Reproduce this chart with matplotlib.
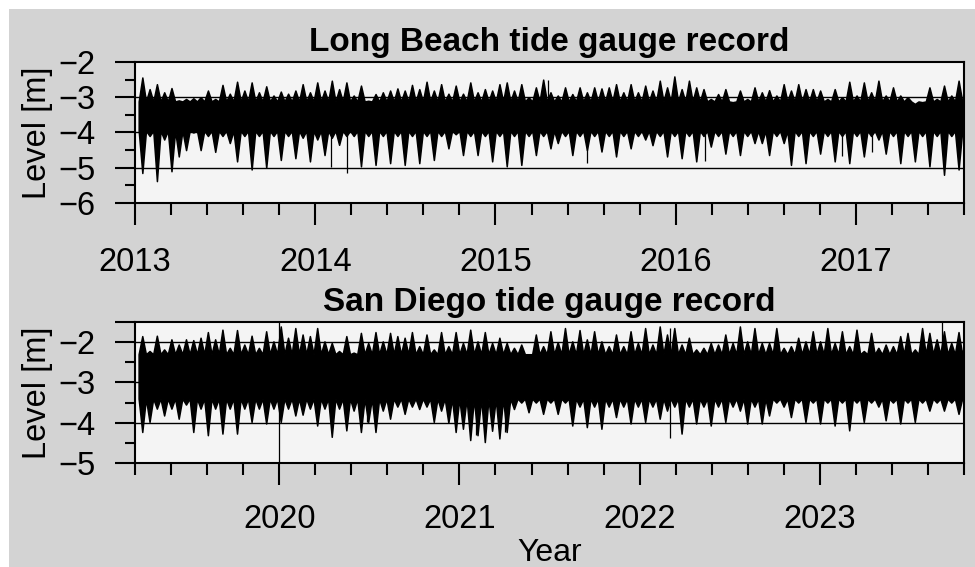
import numpy as np
import matplotlib
matplotlib.use('Agg')
import matplotlib.pyplot as plt
from matplotlib.ticker import MultipleLocator, FixedLocator
from matplotlib.patches import Rectangle

plt.rcParams['font.family'] = ['Liberation Sans', 'DejaVu Sans']

# one spring tide every 14.77 days, neap levels in between
STEP = 14.77 / 365.25

# Long Beach: spring-tide highs / lows [m]
lb_start = 2013.0405
lb_high = [-2.44, -2.77, -2.63, -2.86, -2.74, -3.09, -3.05, -3.03, -3.0, -2.81,
           -3.05, -2.65, -2.9, -2.56, -2.81, -2.58, -2.86, -2.69, -2.95, -2.84,
           -2.9, -2.81, -2.63, -2.86, -2.58, -2.81, -2.53, -2.77, -2.58,
           -2.95, -2.67, -3.1, -2.91, -2.86, -2.81, -2.75, -2.81, -2.65, -2.77,
           -2.56, -2.81, -2.63, -2.9, -2.67, -2.9, -2.58, -2.86, -2.77, -2.81,
           -2.63, -2.58, -2.81, -2.63, -3.0, -2.72, -2.5, -2.86,
           -2.95, -2.72, -2.91, -2.72, -2.86, -2.72, -2.75, -2.72, -2.63, -2.86,
           -2.63, -2.86, -2.67, -2.81, -2.53, -2.72, -2.41, -2.77, -2.53, -2.72,
           -2.77, -3.05, -2.91, -2.77, -3.14, -2.81, -3.05, -2.72, -2.86,
           -2.8, -2.95, -2.63, -2.81, -2.63, -2.77, -2.77, -2.81, -3.05, -2.77,
           -3.0, -2.56, -2.95, -2.58, -2.86, -2.53, -2.95, -2.72, -2.95, -3.0,
           -3.19, -3.14, -2.72, -3.05, -2.67, -2.95, -2.53, -2.9]
lb_low = [-5.15, -4.1, -5.38, -4.2, -5.1, -4.68, -4.5, -4.0, -4.5, -4.1,
          -4.55, -4.1, -4.3, -4.82, -4.1, -5.05, -4.1, -5.0, -4.1, -4.78,
          -4.1, -4.73, -4.15, -4.82, -4.2, -4.64, -4.15, -4.35, -4.1,
          -4.1, -4.96, -4.1, -4.92, -4.1, -4.87, -4.1, -4.92, -4.1, -4.87,
          -4.1, -4.78, -4.1, -4.45, -4.05, -4.64, -4.1, -4.64, -4.1, -4.82,
          -4.1, -4.96, -4.1, -4.92, -4.1, -4.64, -4.1, -4.45,
          -4.3, -4.1, -4.64, -4.1, -4.5, -4.1, -4.54, -4.1, -4.68, -4.1,
          -4.45, -4.1, -4.2, -4.36, -4.1, -4.68, -4.1, -4.73, -4.1, -4.82,
          -4.1, -4.4, -4.1, -4.6, -4.1, -4.64, -4.1, -4.3, -4.3,
          -4.64, -4.1, -4.3, -4.92, -4.1, -4.87, -4.1, -4.6, -4.1, -4.82,
          -4.1, -4.87, -4.1, -4.68, -4.1, -4.2, -4.6, -4.1, -4.87, -4.1,
          -4.82, -4.1, -4.96, -4.1, -5.2, -4.1, -5.05, -4.1]
lb_neap = (-3.12, -3.95)
lb_spike_t = [2014.09, 2014.174, 2015.293, 2015.509, 2016.161, 2016.92, 2017.087]
lb_spike_lo = [-4.97, -5.15, -3.5, -4.87, -4.82, -4.68, -4.55]
lb_spike_hi = [-3.5, -3.5, -2.5, -3.5, -3.5, -3.5, -3.5]

# San Diego: spring-tide highs / lows [m]
sd_start = 2019.2401
sd_high = [-1.85, -2.22, -1.84, -2.18, -1.93, -2.06, -1.93, -1.95, -1.89, -1.75,
           -1.93, -1.69, -2.14, -1.7, -2.06, -1.84, -2.14, -1.73, -1.98, -1.61,
           -1.89, -1.65, -1.81, -1.85, -1.65, -1.98, -2.02, -2.22, -1.85,
           -2.26, -1.77, -2.02, -1.75, -1.98, -1.77, -1.85, -1.89, -1.75, -2.1,
           -1.81, -2.18, -1.75, -2.1, -1.75, -2.02, -1.69, -1.98, -1.75, -2.02,
           -1.89, -2.02, -2.14, -2.06, -2.3, -1.81, -2.1, -1.73,
           -2.0, -1.65, -1.98, -1.7, -1.93, -1.73, -1.98, -2.1, -1.81, -2.1,
           -1.73, -2.02, -1.65, -2.06, -1.61, -1.81, -1.65, -2.06, -1.89, -2.18,
           -2.14, -2.02, -2.06, -1.81, -2.02, -1.61, -1.98, -1.65, -2.02,
           -2.02, -1.65, -2.14, -2.1, -1.89, -1.98, -1.73, -1.98, -1.65, -2.02,
           -1.73, -2.1, -1.69, -2.22, -1.77, -2.14, -2.06, -2.1, -1.85, -1.77,
           -2.18, -1.65, -1.77, -1.93, -1.73, -2.02, -1.75, -1.9]
sd_low = [-4.23, -3.98, -3.65, -3.82, -3.65, -3.9, -3.55, -4.23, -3.65, -4.31,
          -3.65, -4.27, -3.65, -4.27, -3.65, -3.98, -3.65, -4.02, -3.65, -3.98,
          -3.65, -3.82, -3.8, -3.65, -4.07, -3.65, -4.35, -3.65, -4.19,
          -3.7, -4.23, -3.98, -4.23, -3.7, -3.9, -3.6, -3.78, -3.6, -3.66,
          -3.6, -3.98, -3.7, -4.0, -4.23, -4.15, -4.43, -4.31, -4.48, -4.2,
          -4.39, -4.23, -3.66, -3.5, -3.74, -3.5, -3.78, -3.5,
          -3.78, -3.5, -4.07, -3.6, -4.11, -3.6, -4.15, -3.6, -3.86, -3.6,
          -4.02, -3.6, -3.98, -3.6, -3.9, -3.7, -3.6, -4.27, -3.6, -4.02,
          -3.6, -4.07, -3.6, -3.98, -3.6, -3.7, -4.02, -3.6, -4.02,
          -3.82, -3.5, -3.6, -3.86, -3.5, -3.98, -3.5, -4.02, -3.5, -4.07,
          -3.5, -4.19, -3.5, -3.98, -3.5, -3.6, -3.94, -3.5, -4.02, -3.5,
          -3.98, -3.5, -3.7, -3.5, -3.7, -3.5, -3.78, -3.5]
sd_neap = (-2.3, -3.4)
sd_spike_t = [2020.0, 2020.488, 2021.091, 2021.255, 2022.17, 2023.675]
sd_spike_lo = [-5.3, -3.98, -4.31, -4.23, -4.39, -3.2]
sd_spike_hi = [-1.3, -3.0, -3.0, -3.0, -1.65, -1.4]


def tide_band(start, highs, lows, neap):
    t = [start - STEP / 2]
    hi = [neap[0]]
    lo = [neap[1]]
    for k in range(len(highs)):
        tk = start + k * STEP
        t += [tk, tk + STEP / 2]
        hi += [highs[k], neap[0]]
        lo += [lows[k], neap[1]]
    return np.array(t), np.array(hi), np.array(lo)


def style_axes(ax, yticks, ylim, xlim, grid_levels, xpad):
    ax.set_facecolor('#f4f4f4')
    ax.set_xlim(*xlim)
    ax.set_ylim(*ylim)
    ax.yaxis.set_major_locator(FixedLocator(yticks))
    ax.yaxis.set_minor_locator(MultipleLocator(0.5))
    ax.xaxis.set_major_locator(MultipleLocator(1))
    ax.xaxis.set_minor_locator(MultipleLocator(0.2))
    ax.xaxis.set_major_formatter(plt.FuncFormatter(lambda v, p: '%d' % round(v)))
    ax.yaxis.set_major_formatter(plt.FuncFormatter(
        lambda v, p: '' if v != round(v) else ('\u2212%d' % abs(round(v)))))
    for g in grid_levels:
        ax.axhline(g, color='k', lw=1.0, zorder=1)
    for s in ax.spines.values():
        s.set_linewidth(1.5)
    ax.tick_params(axis='y', which='major', direction='out', length=14.5, width=1.5,
                   labelsize=23.5, pad=14)
    ax.tick_params(axis='y', which='minor', direction='out', length=7, width=1.5)
    ax.tick_params(axis='x', which='major', direction='out', length=16, width=1.5,
                   labelsize=23.5, pad=xpad)
    ax.tick_params(axis='x', which='minor', direction='out', length=8.5, width=1.5)
    ax.set_ylabel('Level [m]', fontsize=23.5)
    ax.yaxis.set_label_coords(-0.099, 0.5)


fig = plt.figure(figsize=(9.75, 5.67), dpi=100)
fig.patch.set_facecolor('white')
fig.patches.append(Rectangle((9 / 975, 0), 966 / 975, 558 / 567, transform=fig.transFigure,
                             facecolor='#d3d3d3', edgecolor='none', zorder=-10))

ax1 = fig.add_axes([0.1385, 0.642, 0.8503, 0.2487])
ax2 = fig.add_axes([0.1385, 0.1834, 0.8503, 0.2487])

t, hi, lo = tide_band(lb_start, lb_high, lb_low, lb_neap)
ax1.fill_between(t, lo, hi, facecolor='k', edgecolor='k', lw=1.1, zorder=2)
ax1.vlines(lb_spike_t, lb_spike_lo, lb_spike_hi, color='k', lw=0.9, zorder=2)
style_axes(ax1, [-6, -5, -4, -3, -2], (-6, -2), (2013.0, 2017.6), [-3, -4, -5], 15.5)
ax1.set_title('Long Beach tide gauge record', fontsize=24, fontweight='bold', pad=8)

t, hi, lo = tide_band(sd_start, sd_high, sd_low, sd_neap)
ax2.fill_between(t, lo, hi, facecolor='k', edgecolor='k', lw=1.1, zorder=2)
ax2.vlines(sd_spike_t, sd_spike_lo, sd_spike_hi, color='k', lw=0.9, zorder=2)
style_axes(ax2, [-5, -4, -3, -2, -1.5], (-5, -1.5), (2019.2, 2023.8), [-2, -3, -4], 13.5)
ax2.set_title('San Diego tide gauge record', fontsize=24, fontweight='bold', pad=8)
ax2.set_xlabel('Year', fontsize=23)
ax2.xaxis.set_label_coords(0.5, -0.535)

fig.savefig('out.png', dpi=100, facecolor=fig.get_facecolor())
